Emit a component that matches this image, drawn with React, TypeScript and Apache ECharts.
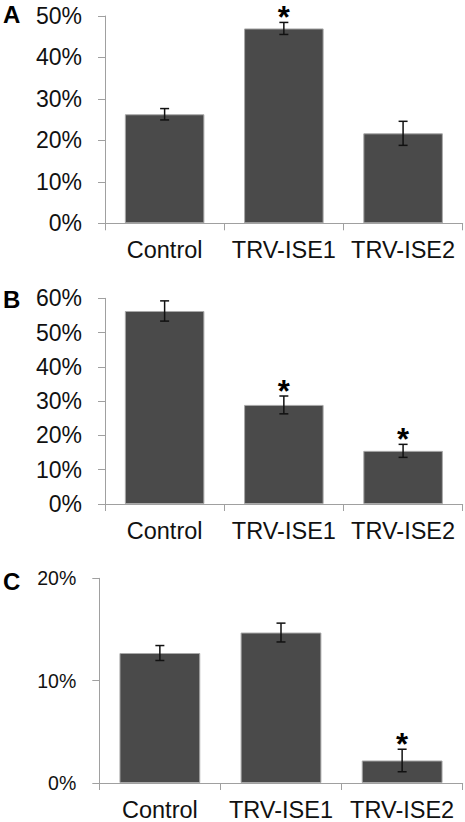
import React, { useEffect, useRef } from "react";
import * as echarts from "echarts";

const categories = ["Control", "TRV-ISE1", "TRV-ISE2"];
const panelLabels = ["A", "B", "C"];

const valuesA = [26.3, 47.0, 21.7];
const errorsA = [1.37, 1.45, 2.9];
const signifA = [false, true, false];

const valuesB = [56.3, 28.9, 15.5];
const errorsB = [2.95, 2.6, 1.9];
const signifB = [false, true, true];

const valuesC = [12.7, 14.7, 2.2];
const errorsC = [0.73, 0.92, 1.1];
const signifC = [false, false, true];

const yMaxes = [50, 60, 20];
const yInterval = 10;

const FONT = "'Liberation Sans', Arial, sans-serif";
const AXIS_COLOR = "#a0a0a0";
const BAR_COLOR = "#4a4a4a";

export default function App() {
  const ref = useRef<HTMLDivElement>(null);

  useEffect(() => {
    if (!ref.current) return;
    const chart = echarts.init(ref.current, null, { renderer: "svg" });

    const panels = [
      { values: valuesA, errors: errorsA, signif: signifA },
      { values: valuesB, errors: errorsB, signif: signifB },
      { values: valuesC, errors: errorsC, signif: signifC },
    ];

    const grids = [
      { left: 105, top: 16, width: 357.7, height: 207.3 },
      { left: 105, top: 298.3, width: 357.7, height: 205.7 },
      { left: 99.3, top: 578.3, width: 363.4, height: 206 },
    ];
    const letterY = [14, 299, 581];
    const yLabelSize = [23, 23, 19.5];

    const xAxes = panels.map((_, i) => ({
      type: "category",
      gridIndex: i,
      data: categories,
      axisLine: { show: true, lineStyle: { color: AXIS_COLOR, width: 1 } },
      axisTick: { show: true, length: 7, lineStyle: { color: AXIS_COLOR, width: 1 } },
      axisLabel: { fontSize: 23.5, color: "#111", fontFamily: FONT, margin: 15, interval: 0 },
    }));

    const yAxes = panels.map((_, i) => ({
      type: "value",
      gridIndex: i,
      min: 0,
      max: yMaxes[i],
      interval: yInterval,
      axisLine: { show: true, lineStyle: { color: AXIS_COLOR, width: 1 } },
      axisTick: { show: true, length: 7, lineStyle: { color: AXIS_COLOR, width: 1 } },
      splitLine: { show: false },
      axisLabel: {
        formatter: "{value}%",
        fontSize: yLabelSize[i],
        color: "#111",
        fontFamily: FONT,
        margin: 23,
      },
    }));

    const series: any[] = [];
    panels.forEach((p, i) => {
      series.push({
        type: "bar",
        xAxisIndex: i,
        yAxisIndex: i,
        data: p.values,
        barCategoryGap: "33.3%",
        itemStyle: { color: BAR_COLOR, borderColor: "#a8a8a8", borderWidth: 1 },
        silent: true,
      });
      series.push({
        type: "custom",
        xAxisIndex: i,
        yAxisIndex: i,
        encode: { x: 0, y: 1 },
        data: p.values.map((v, k) => [k, v, p.errors[k], p.signif[k] ? 1 : 0]),
        renderItem: (params: any, api: any) => {
          const idx = api.value(0);
          const v = api.value(1);
          const e = api.value(2);
          const s = api.value(3);
          const top = api.coord([idx, v + e]);
          const bot = api.coord([idx, v - e]);
          const cx = top[0];
          const hw = 4.5;
          const ls = { stroke: "#111", lineWidth: 1.5 };
          const children: any[] = [
            { type: "line", shape: { x1: cx, y1: top[1], x2: cx, y2: bot[1] }, style: ls },
            { type: "line", shape: { x1: cx - hw, y1: top[1], x2: cx + hw, y2: top[1] }, style: ls },
            { type: "line", shape: { x1: cx - hw, y1: bot[1], x2: cx + hw, y2: bot[1] }, style: ls },
          ];
          if (s) {
            children.push({
              type: "text",
              x: cx,
              y: top[1] - 5,
              style: {
                text: "*",
                fontSize: 31,
                fontWeight: "bold",
                fontFamily: FONT,
                fill: "#000",
                align: "center",
                verticalAlign: "middle",
              },
            });
          }
          return { type: "group", children };
        },
        silent: true,
        z: 5,
      });
    });

    chart.setOption({
      animation: false,
      backgroundColor: "#fff",
      grid: grids.map((g) => ({ ...g, containLabel: false })),
      xAxis: xAxes,
      yAxis: yAxes,
      series,
      graphic: panelLabels.map((t, i) => ({
        type: "text",
        x: 3,
        y: letterY[i],
        style: {
          text: t,
          fontSize: 24,
          fontWeight: "bold",
          fontFamily: FONT,
          fill: "#000",
          align: "left",
          verticalAlign: "middle",
        },
      })),
    });

    return () => chart.dispose();
  }, []);

  return (
    <div
      ref={ref}
      style={{ position: "absolute", left: 0, top: 0, width: 465, height: 822 }}
    />
  );
}
